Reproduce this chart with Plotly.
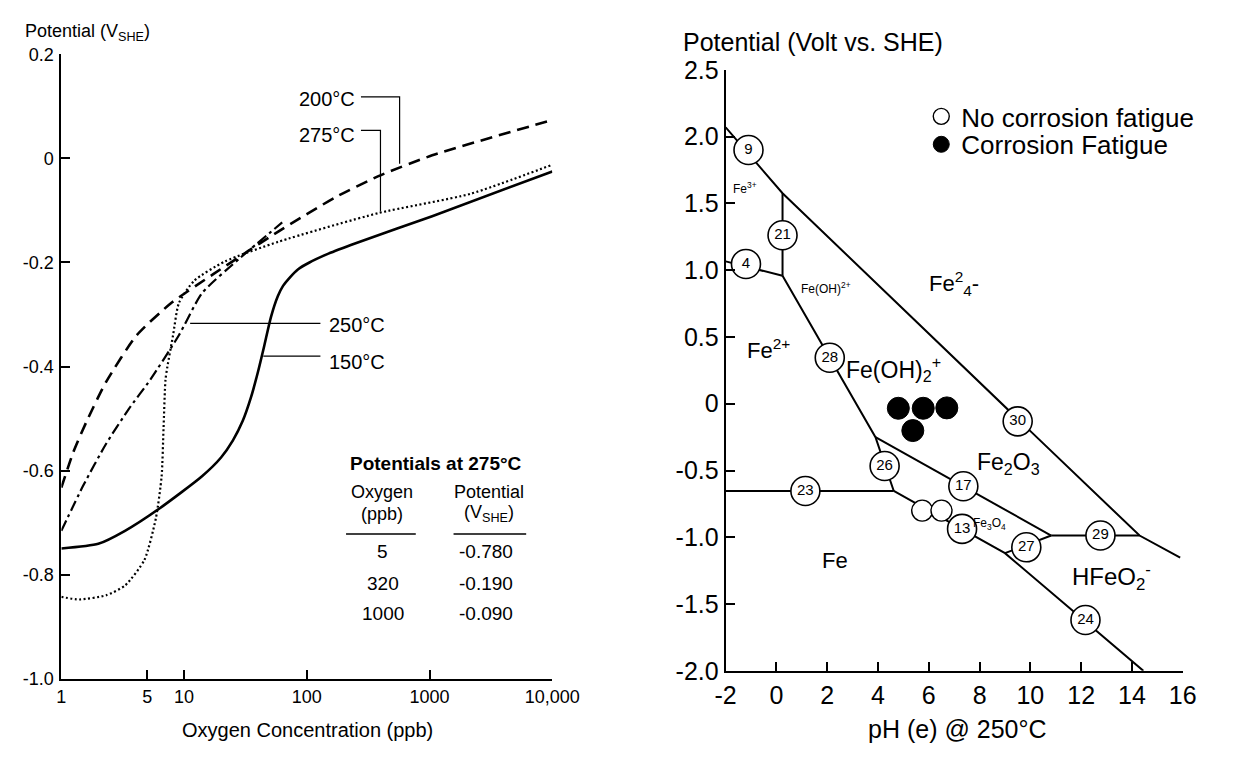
import numpy as np
import plotly.graph_objects as go

W, H = 1233, 759
FONT = "Liberation Sans, Arial, Helvetica, sans-serif"

# ---------------- Left chart: potential vs oxygen concentration ----------------
conc_150 = [1, 2, 3.3, 6.3, 14, 20, 25, 30, 35, 40, 45, 51, 58, 64, 72, 85, 105, 150, 250, 1050, 10000]
pot_150 = [-0.75, -0.741, -0.716, -0.673, -0.611, -0.575, -0.542, -0.505, -0.46, -0.41, -0.36,
           -0.305, -0.265, -0.245, -0.23, -0.213, -0.2, -0.183, -0.163, -0.111, -0.025]

conc_200 = [1, 1.25, 1.61, 2.31, 4.11, 7.85, 17.4, 28.7, 58.9, 173, 383, 1050, 10000]
pot_200 = [-0.633, -0.565, -0.505, -0.43, -0.34, -0.278, -0.222, -0.188, -0.14, -0.074,
           -0.034, 0.006, 0.074]

conc_250 = [1, 1.5, 2.31, 3.56, 5.28, 9.07, 14, 28.7, 63]
pot_250 = [-0.716, -0.63, -0.549, -0.481, -0.426, -0.34, -0.259, -0.191, -0.123]

conc_275 = [1, 1.4, 2.31, 3.31, 4.75, 5.9, 6.56, 6.8, 7.05, 7.3, 8.13, 9.07, 12.1, 21.5,
            58.9, 383, 2150, 10000]
pot_275 = [-0.843, -0.848, -0.84, -0.821, -0.772, -0.691, -0.611, -0.519, -0.426, -0.401,
           -0.34, -0.278, -0.235, -0.198, -0.16, -0.105, -0.068, -0.012]

# leader lines of the temperature labels
lead200_c = [276, 570, 570]
lead200_v = [0.1185, 0.1185, -0.01]
lead275_c = [276, 398, 398]
lead275_v = [0.054, 0.054, -0.102]
lead250_c = [11.2, 129]
lead250_v = [-0.317, -0.317]
lead150_c = [44.2, 129]
lead150_v = [-0.38, -0.38]

x1_ticks = [1, 5, 10, 100, 1000, 10000]
x1_text = ["1", "5", "10", "100", "1000", "10,000"]
y1_ticks = [0.2, 0, -0.2, -0.4, -0.6, -0.8, -1.0]
y1_text = ["0.2", "0", "-0.2", "-0.4", "-0.6", "-0.8", "-1.0"]

table_oxygen = ["5", "320", "1000"]
table_potential = ["-0.780", "-0.190", "-0.090"]

# ---------------- Right chart: Pourbaix diagram ----------------
top_ph = [-2, 0.24, 9.6, 14.3, 15.9]
top_v = [2.07, 1.576, -0.132, -0.987, -1.153]
vert_ph = [0.24, 0.24]
vert_v = [1.576, 0.958]
fe2_ph = [-2, 0.24]
fe2_v = [1.066, 0.958]
mid_ph = [0.24, 3.9, 4.62]
mid_v = [0.958, -0.25, -0.653]
feh_ph = [-2, 4.62]
feh_v = [-0.653, -0.653]
upper_ph = [3.9, 10.82]
upper_v = [-0.25, -0.987]
lower_ph = [4.62, 9.0, 14.45]
lower_v = [-0.653, -1.119, -2.0]
link_ph = [10.82, 9.0]
link_v = [-0.987, -1.119]
h29_ph = [10.82, 14.3]
h29_v = [-0.987, -0.987]

num_labels = ["9", "21", "4", "28", "30", "26", "17", "23", "13", "27", "29", "24"]
num_ph = [-1.1, 0.24, -1.2, 2.1, 9.5, 4.26, 7.36, 1.14, 7.31, 9.84, 12.76, 12.17]
num_v = [1.90, 1.262, 1.046, 0.344, -0.132, -0.466, -0.618, -0.653, -0.937, -1.075, -0.987, -1.619]

nocf_ph = [5.74, 6.5]
nocf_v = [-0.80, -0.80]
cf_ph = [4.8, 5.78, 6.71, 5.37]
cf_v = [-0.034, -0.034, -0.031, -0.201]

x2_ticks = [-2, 0, 2, 4, 6, 8, 10, 12, 14, 16]
x2_text = ["-2", "0", "2", "4", "6", "8", "10", "12", "14", "16"]
y2_ticks = [2.5, 2.0, 1.5, 1.0, 0.5, 0, -0.5, -1.0, -1.5, -2.0]
y2_text = ["2.5", "2.0", "1.5", "1.0", "0.5", "0", "-0.5", "-1.0", "-1.5", "-2.0"]

region_text = ["Fe<sup>3+</sup>", "Fe(OH)<sup>2+</sup>", "Fe<sup>2</sup><sub>4</sub>-", "Fe<sup>2+</sup>",
               "Fe(OH)<sub>2</sub><sup>+</sup>", "Fe<sub>2</sub>O<sub>3</sub>", "Fe<sub>3</sub>O<sub>4</sub>",
               "Fe", "HFeO<sub>2</sub><sup>-</sup>"]
region_ph = [-1.25, 1.95, 7.0, -0.3, 4.6, 9.15, 8.4, 2.3, 13.2]
region_v = [1.616, 0.87, 0.899, 0.408, 0.26, -0.446, -0.898, -1.173, -1.301]
region_size = [12, 12, 22, 22, 23, 23, 12, 22, 24]


def px(x):
    return x / W


def py(y):
    return 1 - y / H


fig = go.Figure()


def line_trace(x, y, xa, ya, width=2.2, dash="solid", spline=False):
    ln = dict(color="black", width=width, dash=dash)
    if spline:
        ln.update(shape="spline", smoothing=0.6)
    return go.Scatter(x=x, y=y, mode="lines", line=ln, xaxis=xa, yaxis=ya,
                      showlegend=False, hoverinfo="skip")


# left curves
fig.add_trace(line_trace(conc_150, pot_150, "x", "y", 2.6, "solid", True))
fig.add_trace(line_trace(conc_200, pot_200, "x", "y", 2.6, "12px,7px", True))
fig.add_trace(line_trace(conc_250, pot_250, "x", "y", 2.2, "11px,4px,3px,4px", True))
fig.add_trace(line_trace(conc_275, pot_275, "x", "y", 2.2, "2px,2.5px", True))
for cx, cv in [(lead200_c, lead200_v), (lead275_c, lead275_v),
               (lead250_c, lead250_v), (lead150_c, lead150_v)]:
    fig.add_trace(line_trace(cx, cv, "x", "y", 1.2))

# right boundary lines
for lx, lv in [(top_ph, top_v), (vert_ph, vert_v), (fe2_ph, fe2_v), (mid_ph, mid_v),
               (feh_ph, feh_v), (upper_ph, upper_v), (lower_ph, lower_v),
               (link_ph, link_v), (h29_ph, h29_v)]:
    fig.add_trace(line_trace(lx, lv, "x2", "y2", 2.0))

# numbered circles
fig.add_trace(go.Scatter(
    x=num_ph, y=num_v, mode="markers+text", text=num_labels, textposition="middle center",
    textfont=dict(size=15, color="black", family=FONT),
    marker=dict(size=29, color="white", line=dict(color="black", width=1.6)),
    xaxis="x2", yaxis="y2", showlegend=False, hoverinfo="skip", cliponaxis=False))

# test points (each in its own legend box so the rows sit as in the reference)
fig.add_trace(go.Scatter(
    x=nocf_ph, y=nocf_v, mode="markers", name="No corrosion fatigue", legend="legend",
    marker=dict(size=21, color="white", line=dict(color="black", width=1.4)),
    xaxis="x2", yaxis="y2", hoverinfo="skip"))
fig.add_trace(go.Scatter(
    x=cf_ph, y=cf_v, mode="markers", name="Corrosion Fatigue", legend="legend2",
    marker=dict(size=22, color="black", line=dict(color="black", width=1)),
    xaxis="x2", yaxis="y2", hoverinfo="skip"))

ann = []
# left title and axis title
ann.append(dict(x=px(12), y=py(19), xref="paper", yref="paper", xanchor="left", yanchor="middle",
                text="Potential (V<sub>SHE</sub>)", showarrow=False, font=dict(size=18)))
ann.append(dict(x=px(306), y=py(743), xref="paper", yref="paper", xanchor="center", yanchor="middle",
                text="Oxygen Concentration (ppb)", showarrow=False, font=dict(size=20)))
# temperature labels
for t, xc, yc in [("200°C", 326, 88), ("275°C", 326, 126), ("250°C", 357, 323), ("150°C", 357, 361)]:
    ann.append(dict(x=px(xc), y=py(yc), xref="paper", yref="paper", xanchor="center",
                    yanchor="middle", text=t, showarrow=False, font=dict(size=20)))
# table
TS = 18
ann.append(dict(x=px(439), y=py(467), xref="paper", yref="paper", xanchor="center", yanchor="middle",
                text="<b>Potentials at 275°C</b>", showarrow=False, font=dict(size=19)))
ann.append(dict(x=px(383), y=py(496), xref="paper", yref="paper", xanchor="center", yanchor="middle",
                text="Oxygen", showarrow=False, font=dict(size=TS)))
ann.append(dict(x=px(383), y=py(519), xref="paper", yref="paper", xanchor="center", yanchor="middle",
                text="(ppb)", showarrow=False, font=dict(size=TS)))
ann.append(dict(x=px(494), y=py(496), xref="paper", yref="paper", xanchor="center", yanchor="middle",
                text="Potential", showarrow=False, font=dict(size=TS)))
ann.append(dict(x=px(494), y=py(519), xref="paper", yref="paper", xanchor="center", yanchor="middle",
                text="(V<sub>SHE</sub>)", showarrow=False, font=dict(size=TS)))
for i, (o, p) in enumerate(zip(table_oxygen, table_potential)):
    yy = [558, 591, 622][i]
    ann.append(dict(x=px(384), y=py(yy), xref="paper", yref="paper", xanchor="center",
                    yanchor="middle", text=o, showarrow=False, font=dict(size=19)))
    ann.append(dict(x=px(490), y=py(yy), xref="paper", yref="paper", xanchor="center",
                    yanchor="middle", text=p, showarrow=False, font=dict(size=19)))

# right title & axis title
ann.append(dict(x=px(692), y=py(29), xref="paper", yref="paper", xanchor="left", yanchor="middle",
                text="Potential (Volt vs. SHE)", showarrow=False, font=dict(size=25)))
ann.append(dict(x=px(977), y=py(742), xref="paper", yref="paper", xanchor="center", yanchor="middle",
                text="pH (e) @ 250°C", showarrow=False, font=dict(size=25)))
# region labels
for t, xr, yr, s in zip(region_text, region_ph, region_v, region_size):
    ann.append(dict(x=xr, y=yr, xref="x2", yref="y2", xanchor="center", yanchor="middle",
                    text=t, showarrow=False, font=dict(size=s)))

shapes = [
    dict(type="line", xref="paper", yref="paper", x0=px(346), x1=px(418), y0=py(540), y1=py(540),
         line=dict(color="black", width=1.5)),
    dict(type="line", xref="paper", yref="paper", x0=px(457), x1=px(532), y0=py(540), y1=py(540),
         line=dict(color="black", width=1.5)),
]

axis_common = dict(showline=True, linecolor="black", linewidth=2, ticks="inside", ticklen=9,
                   tickwidth=2, tickcolor="black", showgrid=False, zeroline=False, mirror=False)

legend_common = dict(xanchor="left", yanchor="top", font=dict(size=26),
                     bgcolor="rgba(0,0,0,0)", tracegroupgap=0)

fig.update_layout(
    width=W, height=H, margin=dict(l=0, r=0, t=0, b=0),
    paper_bgcolor="white", plot_bgcolor="white",
    font=dict(family=FONT, color="black"),
    xaxis=dict(type="log", range=[0, 4], domain=[px(52), px(559)], anchor="y",
               tickvals=x1_ticks, ticktext=x1_text, tickfont=dict(size=18),
               ticklabelstandoff=1, **axis_common),
    yaxis=dict(range=[-1.0, 0.2], domain=[py(690), py(42)], anchor="x",
               tickvals=y1_ticks, ticktext=y1_text, tickfont=dict(size=18),
               ticklabelstandoff=2, **axis_common),
    xaxis2=dict(range=[-2, 16], domain=[px(738), px(1210)], anchor="y2",
                tickvals=x2_ticks, ticktext=x2_text, tickfont=dict(size=25),
                ticklabelstandoff=1, **axis_common),
    yaxis2=dict(range=[-2.0, 2.5], domain=[py(682), py(58)], anchor="x2",
                tickvals=y2_ticks, ticktext=y2_text, tickfont=dict(size=25),
                ticklabelstandoff=0, **axis_common),
    legend=dict(x=px(940), y=py(82), **legend_common),
    legend2=dict(x=px(940), y=py(111), **legend_common),
    annotations=ann, shapes=shapes, showlegend=True,
)

fig.write_html("out.html")
